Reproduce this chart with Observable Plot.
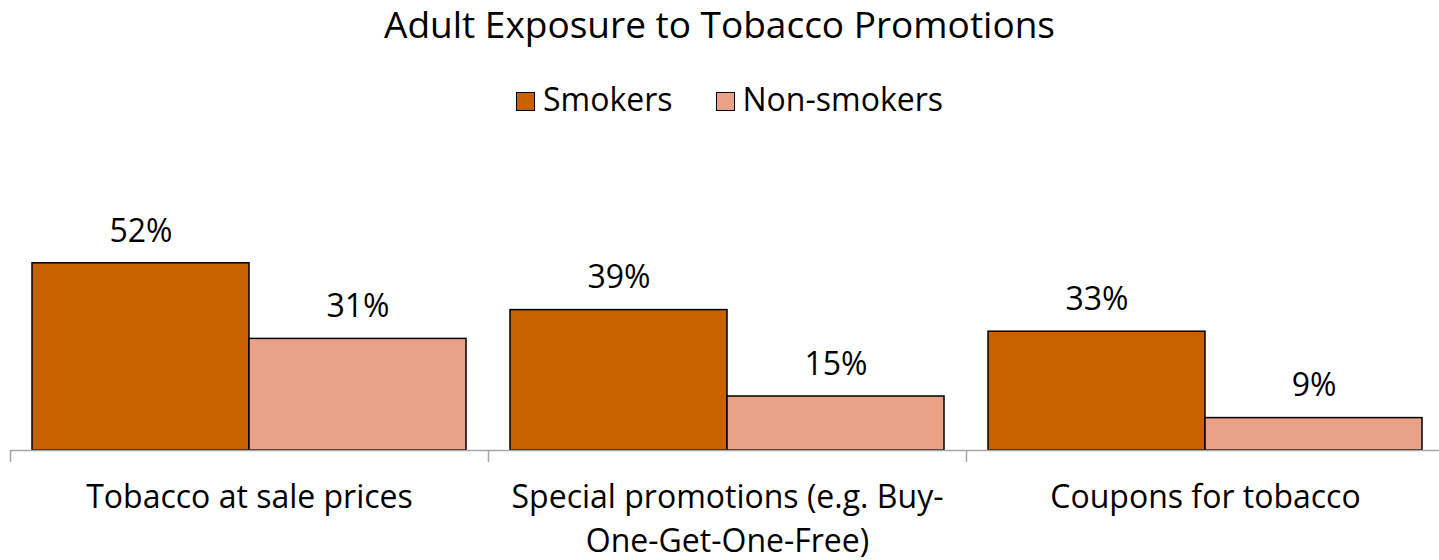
<!DOCTYPE html>
<html>
<head>
<meta charset="utf-8">
<script src="https://cdn.jsdelivr.net/npm/d3@7"></script>
<script src="https://cdn.jsdelivr.net/npm/@observablehq/plot@0.6"></script>
<style>
  html, body { margin: 0; padding: 0; background: #fff; }
  body { width: 1439px; height: 560px; overflow: hidden; font-family: "Open Sans", Lato, sans-serif; color: #000; }
  #header { position: relative; height: 130px; }
  #title { position: absolute; left: 0; width: 1439px; top: 4px; text-align: center; font-size: 37px; line-height: 40px; }
  #legend { position: absolute; left: 10px; width: 1439px; top: 82px; display: flex; justify-content: center; gap: 43px; font-size: 32px; line-height: 34px; }
  .item { display: flex; align-items: center; gap: 8px; }
  .sw { width: 19px; height: 19px; margin-top: 4px; border: 1.5px solid #000; box-sizing: border-box; }
</style>
</head>
<body>
<div id="header">
  <div id="title"></div>
  <div id="legend"></div>
</div>
<div id="chart"></div>
<script>
const title = "Adult Exposure to Tobacco Promotions";
const categories = ["Tobacco at sale prices", "Special promotions (e.g. Buy-One-Get-One-Free)", "Coupons for tobacco"];
const tickLabels = ["Tobacco at sale prices", "Special promotions (e.g. Buy-\nOne-Get-One-Free)", "Coupons for tobacco"];
const series = ["Smokers", "Non-smokers"];
const smokers = [52, 39, 33];
const nonSmokers = [31, 15, 9];
const colors = ["#C66200", "#E9A285"];

const data = [];
categories.forEach((c, i) => {
  data.push({category: c, series: series[0], value: smokers[i]});
  data.push({category: c, series: series[1], value: nonSmokers[i]});
});

document.getElementById("title").textContent = title;
const legend = document.getElementById("legend");
series.forEach((s, i) => {
  const item = document.createElement("div");
  item.className = "item";
  const sw = document.createElement("div");
  sw.className = "sw";
  sw.style.background = colors[i];
  const label = document.createElement("span");
  label.textContent = s;
  item.appendChild(sw);
  item.appendChild(label);
  legend.appendChild(item);
});

const chart = Plot.plot({
  width: 1439,
  height: 430,
  marginTop: 104,
  marginBottom: 110,
  marginLeft: 10,
  marginRight: 0,
  style: {fontFamily: "'Open Sans', Lato, sans-serif", color: "#000", background: "#fff"},
  fx: {domain: categories, range: [10, 1444], padding: 0, label: null, axis: null},
  x: {domain: series, padding: 0, insetLeft: 22, insetRight: 22, axis: null},
  y: {domain: [0, 60], axis: null},
  color: {domain: series, range: colors},
  marks: [
    Plot.barY(data, {fx: "category", x: "series", y: "value", fill: "series", stroke: "#000", strokeWidth: 1.5}),
    Plot.ruleY([0], {stroke: "#a6a6a6", strokeWidth: 1.5}),
    Plot.text(data, {fx: "category", x: "series", y: "value", text: d => d.value + "%", dy: -32, fontSize: 32, fill: "#000"}),
    Plot.axisFx({anchor: "bottom", tickSize: 12, dx: -239, text: null, stroke: "#a6a6a6", strokeWidth: 1.5, label: null}),
    Plot.axisFx({anchor: "bottom", tickSize: 0, tickPadding: 27, fontSize: 32, lineHeight: 1.36, tickFormat: d => tickLabels[categories.indexOf(d)], label: null, fill: "#000"})
  ]
});
document.getElementById("chart").appendChild(chart);
</script>
</body>
</html>
